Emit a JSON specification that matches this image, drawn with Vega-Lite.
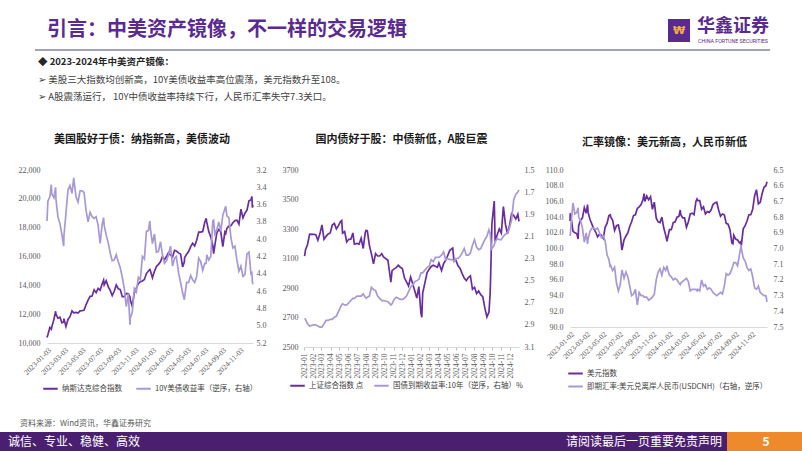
{
"$schema": "https://vega.github.io/schema/vega-lite/v6.json",
"padding": 0,
"background": "white",
"config": {
  "view": {"stroke": null},
  "axis": {"labelFont": "Liberation Serif", "labelFontSize": 8, "labelColor": "#595959", "grid": false, "ticks": false, "domain": false, "labelPadding": 6, "zindex": 1},
  "axisX": {"domain": true, "domainColor": "#d9d9d9", "labelFontSize": 7.5, "labelPadding": 3, "labelOverlap": false, "labelFlush": false},
  "legend": {"labelFont": "Noto Sans CJK SC", "labelFontSize": 7.5, "labelColor": "#404040", "symbolType": "stroke", "symbolStrokeWidth": 2, "symbolSize": 210, "title": null, "labelLimit": 400, "labelOffset": 3},
  "title": {"font": "Noto Sans CJK SC", "fontSize": 11, "fontWeight": "bold", "color": "#1a1a1a", "anchor": "middle", "offset": 21}
},
"datasets": {
"us": [
{"d":"2023-01-03","a":10386,"b":3.79},{"d":"2023-01-06","a":10569,"b":3.56},{"d":"2023-01-13","a":11079,"b":3.51},{"d":"2023-01-18","a":10958,"b":3.37},{"d":"2023-01-20","a":11140,"b":3.48},{"d":"2023-01-27","a":11622,"b":3.52},{"d":"2023-02-02","a":12201,"b":3.40},{"d":"2023-02-03","a":12007,"b":3.53},{"d":"2023-02-10","a":11718,"b":3.74},{"d":"2023-02-17","a":11787,"b":3.82},{"d":"2023-02-24","a":11395,"b":3.95},{"d":"2023-03-02","a":11462,"b":4.08},{"d":"2023-03-03","a":11689,"b":3.96},{"d":"2023-03-10","a":11139,"b":3.70},{"d":"2023-03-17","a":11631,"b":3.43},{"d":"2023-03-24","a":11824,"b":3.38},{"d":"2023-03-31","a":12222,"b":3.47},{"d":"2023-04-06","a":12088,"b":3.29},{"d":"2023-04-14","a":12123,"b":3.51},{"d":"2023-04-21","a":12072,"b":3.57},{"d":"2023-04-28","a":12227,"b":3.44},{"d":"2023-05-05","a":12235,"b":3.44},{"d":"2023-05-12","a":12284,"b":3.46},{"d":"2023-05-19","a":12658,"b":3.67},{"d":"2023-05-26","a":12976,"b":3.80},{"d":"2023-06-02","a":13240,"b":3.69},{"d":"2023-06-09","a":13259,"b":3.74},{"d":"2023-06-16","a":13689,"b":3.76},{"d":"2023-06-23","a":13492,"b":3.74},{"d":"2023-06-30","a":13788,"b":3.84},{"d":"2023-07-07","a":13661,"b":4.05},{"d":"2023-07-14","a":14113,"b":3.83},{"d":"2023-07-19","a":14358,"b":3.75},{"d":"2023-07-21","a":14032,"b":3.84},{"d":"2023-07-28","a":14317,"b":3.95},{"d":"2023-08-04","a":13909,"b":4.04},{"d":"2023-08-11","a":13645,"b":4.16},{"d":"2023-08-18","a":13291,"b":4.25},{"d":"2023-08-25","a":13590,"b":4.24},{"d":"2023-09-01","a":14031,"b":4.18},{"d":"2023-09-08","a":13762,"b":4.26},{"d":"2023-09-15","a":13708,"b":4.33},{"d":"2023-09-22","a":13212,"b":4.44},{"d":"2023-09-29","a":13219,"b":4.57},{"d":"2023-10-06","a":13431,"b":4.78},{"d":"2023-10-13","a":13407,"b":4.63},{"d":"2023-10-19","a":13186,"b":4.99},{"d":"2023-10-20","a":12984,"b":4.91},{"d":"2023-10-26","a":12596,"b":4.85},{"d":"2023-10-27","a":12643,"b":4.84},{"d":"2023-11-03","a":13478,"b":4.57},{"d":"2023-11-10","a":13798,"b":4.61},{"d":"2023-11-17","a":14125,"b":4.44},{"d":"2023-11-24","a":14250,"b":4.47},{"d":"2023-12-01","a":14305,"b":4.20},{"d":"2023-12-08","a":14404,"b":4.23},{"d":"2023-12-15","a":14814,"b":3.91},{"d":"2023-12-22","a":14993,"b":3.90},{"d":"2023-12-27","a":15099,"b":3.79},{"d":"2023-12-29","a":15011,"b":3.88},
{"d":"2024-01-05","a":14524,"b":4.05},{"d":"2024-01-12","a":14972,"b":3.94},{"d":"2024-01-19","a":15311,"b":4.15},{"d":"2024-01-26","a":15455,"b":4.14},{"d":"2024-02-02","a":15629,"b":4.03},{"d":"2024-02-09","a":15990,"b":4.18},{"d":"2024-02-16","a":15776,"b":4.28},{"d":"2024-02-23","a":15997,"b":4.25},{"d":"2024-03-01","a":16275,"b":4.18},{"d":"2024-03-08","a":16085,"b":4.08},{"d":"2024-03-15","a":15973,"b":4.31},{"d":"2024-03-22","a":16429,"b":4.22},{"d":"2024-03-28","a":16379,"b":4.20},{"d":"2024-04-05","a":16249,"b":4.39},{"d":"2024-04-12","a":16175,"b":4.50},{"d":"2024-04-19","a":15282,"b":4.62},{"d":"2024-04-25","a":15611,"b":4.70},{"d":"2024-04-26","a":15928,"b":4.67},{"d":"2024-05-03","a":16156,"b":4.50},{"d":"2024-05-10","a":16341,"b":4.50},{"d":"2024-05-17","a":16686,"b":4.42},{"d":"2024-05-24","a":16921,"b":4.47},{"d":"2024-05-31","a":16735,"b":4.50},{"d":"2024-06-07","a":17133,"b":4.43},{"d":"2024-06-14","a":17689,"b":4.22},{"d":"2024-06-21","a":17689,"b":4.26},{"d":"2024-06-28","a":17733,"b":4.36},{"d":"2024-07-05","a":18353,"b":4.28},{"d":"2024-07-10","a":18647,"b":4.28},{"d":"2024-07-12","a":18398,"b":4.18},{"d":"2024-07-19","a":17727,"b":4.24},{"d":"2024-07-26","a":17358,"b":4.20},{"d":"2024-08-02","a":16776,"b":3.79},{"d":"2024-08-05","a":16200,"b":3.78},{"d":"2024-08-09","a":16745,"b":3.94},{"d":"2024-08-16","a":17631,"b":3.89},{"d":"2024-08-23","a":17878,"b":3.80},{"d":"2024-08-30","a":17714,"b":3.91},{"d":"2024-09-06","a":16691,"b":3.72},{"d":"2024-09-13","a":17684,"b":3.65},{"d":"2024-09-16","a":17593,"b":3.62},{"d":"2024-09-20","a":17948,"b":3.73},{"d":"2024-09-27","a":18120,"b":3.75},{"d":"2024-10-04","a":18138,"b":3.98},{"d":"2024-10-11","a":18343,"b":4.10},{"d":"2024-10-18","a":18490,"b":4.08},{"d":"2024-10-25","a":18519,"b":4.24},{"d":"2024-11-01","a":18240,"b":4.37},{"d":"2024-11-08","a":19287,"b":4.31},{"d":"2024-11-15","a":18680,"b":4.43},{"d":"2024-11-22","a":19004,"b":4.41},{"d":"2024-11-29","a":19218,"b":4.17},{"d":"2024-12-06","a":19860,"b":4.15},{"d":"2024-12-13","a":19927,"b":4.40},{"d":"2024-12-16","a":20173,"b":4.39},{"d":"2024-12-18","a":19392,"b":4.50},{"d":"2024-12-20","a":19573,"b":4.52}
],
"cn": [
{"d":"2023-01-03","a":3116,"b":2.84},{"d":"2023-01-06","a":3158,"b":2.85},{"d":"2023-01-13","a":3195,"b":2.89},{"d":"2023-01-20","a":3265,"b":2.91},{"d":"2023-02-03","a":3263,"b":2.90},{"d":"2023-02-10","a":3261,"b":2.90},{"d":"2023-02-17","a":3224,"b":2.91},{"d":"2023-02-24","a":3267,"b":2.92},{"d":"2023-03-03","a":3328,"b":2.92},{"d":"2023-03-10","a":3230,"b":2.89},{"d":"2023-03-17","a":3250,"b":2.86},{"d":"2023-03-24","a":3266,"b":2.86},{"d":"2023-03-31","a":3273,"b":2.85},{"d":"2023-04-07","a":3327,"b":2.85},{"d":"2023-04-14","a":3338,"b":2.83},{"d":"2023-04-21","a":3301,"b":2.82},{"d":"2023-04-28","a":3323,"b":2.78},{"d":"2023-05-05","a":3350,"b":2.74},{"d":"2023-05-09","a":3357,"b":2.72},{"d":"2023-05-12","a":3272,"b":2.71},{"d":"2023-05-19","a":3283,"b":2.72},{"d":"2023-05-26","a":3212,"b":2.72},{"d":"2023-06-02","a":3230,"b":2.70},{"d":"2023-06-09","a":3231,"b":2.68},{"d":"2023-06-16","a":3273,"b":2.66},{"d":"2023-06-21","a":3197,"b":2.66},{"d":"2023-06-30","a":3202,"b":2.64},{"d":"2023-07-07","a":3197,"b":2.64},{"d":"2023-07-14","a":3237,"b":2.64},{"d":"2023-07-21","a":3168,"b":2.62},{"d":"2023-07-28","a":3276,"b":2.65},{"d":"2023-07-31","a":3291,"b":2.66},{"d":"2023-08-04","a":3288,"b":2.65},{"d":"2023-08-11","a":3189,"b":2.64},{"d":"2023-08-18","a":3131,"b":2.56},{"d":"2023-08-25","a":3064,"b":2.58},{"d":"2023-09-01","a":3133,"b":2.59},{"d":"2023-09-08","a":3117,"b":2.64},{"d":"2023-09-15","a":3117,"b":2.66},{"d":"2023-09-22","a":3132,"b":2.68},{"d":"2023-09-28","a":3110,"b":2.68},{"d":"2023-10-13","a":3088,"b":2.69},{"d":"2023-10-20","a":2983,"b":2.71},{"d":"2023-10-23","a":2939,"b":2.72},{"d":"2023-10-27","a":3018,"b":2.71},{"d":"2023-11-03","a":3030,"b":2.67},{"d":"2023-11-10","a":3038,"b":2.65},{"d":"2023-11-17","a":3054,"b":2.66},{"d":"2023-11-24","a":3041,"b":2.67},{"d":"2023-12-01","a":3032,"b":2.67},{"d":"2023-12-08","a":2969,"b":2.66},{"d":"2023-12-15","a":2942,"b":2.64},{"d":"2023-12-22","a":2914,"b":2.60},{"d":"2023-12-29","a":2975,"b":2.56},
{"d":"2024-01-05","a":2929,"b":2.54},{"d":"2024-01-12","a":2882,"b":2.51},{"d":"2024-01-19","a":2832,"b":2.50},{"d":"2024-01-26","a":2910,"b":2.49},{"d":"2024-02-02","a":2730,"b":2.43},{"d":"2024-02-05","a":2702,"b":2.43},{"d":"2024-02-08","a":2866,"b":2.43},{"d":"2024-02-23","a":3004,"b":2.38},{"d":"2024-03-01","a":3027,"b":2.37},{"d":"2024-03-08","a":3046,"b":2.31},{"d":"2024-03-15","a":3054,"b":2.33},{"d":"2024-03-22","a":3048,"b":2.29},{"d":"2024-03-29","a":3041,"b":2.29},{"d":"2024-04-03","a":3069,"b":2.29},{"d":"2024-04-12","a":3019,"b":2.27},{"d":"2024-04-19","a":3065,"b":2.24},{"d":"2024-04-26","a":3088,"b":2.31},{"d":"2024-04-30","a":3105,"b":2.30},{"d":"2024-05-10","a":3155,"b":2.31},{"d":"2024-05-20","a":3171,"b":2.31},{"d":"2024-05-24","a":3089,"b":2.33},{"d":"2024-05-31","a":3087,"b":2.30},{"d":"2024-06-07","a":3051,"b":2.30},{"d":"2024-06-14","a":3033,"b":2.28},{"d":"2024-06-21","a":2998,"b":2.25},{"d":"2024-06-28","a":2967,"b":2.21},{"d":"2024-07-05","a":2950,"b":2.27},{"d":"2024-07-12","a":2971,"b":2.27},{"d":"2024-07-19","a":2982,"b":2.25},{"d":"2024-07-26","a":2891,"b":2.18},{"d":"2024-08-02","a":2905,"b":2.13},{"d":"2024-08-09","a":2862,"b":2.20},{"d":"2024-08-16","a":2879,"b":2.22},{"d":"2024-08-23","a":2855,"b":2.21},{"d":"2024-08-30","a":2842,"b":2.17},{"d":"2024-09-06","a":2765,"b":2.13},{"d":"2024-09-13","a":2704,"b":2.10},{"d":"2024-09-20","a":2737,"b":2.04},{"d":"2024-09-24","a":2863,"b":2.07},{"d":"2024-09-26","a":3001,"b":2.14},{"d":"2024-09-27","a":3088,"b":2.17},{"d":"2024-09-30","a":3336,"b":2.21},{"d":"2024-10-08","a":3489,"b":2.18},{"d":"2024-10-11","a":3217,"b":2.15},{"d":"2024-10-18","a":3261,"b":2.12},{"d":"2024-10-25","a":3300,"b":2.13},{"d":"2024-11-01","a":3272,"b":2.13},{"d":"2024-11-08","a":3452,"b":2.10},{"d":"2024-11-15","a":3331,"b":2.08},{"d":"2024-11-22","a":3268,"b":2.07},{"d":"2024-11-29","a":3326,"b":2.02},{"d":"2024-12-06","a":3404,"b":1.95},{"d":"2024-12-13","a":3391,"b":1.77},{"d":"2024-12-20","a":3368,"b":1.72},{"d":"2024-12-27","a":3400,"b":1.70},{"d":"2024-12-31","a":3352,"b":1.68}
],
"fx": [
{"d":"2023-01-02","a":103.5,"b":6.91},{"d":"2023-01-03","a":104.5,"b":6.92},{"d":"2023-01-06","a":103.9,"b":6.84},{"d":"2023-01-13","a":102.2,"b":6.71},{"d":"2023-01-20","a":102.0,"b":6.78},{"d":"2023-01-27","a":101.9,"b":6.77},{"d":"2023-02-01","a":101.2,"b":6.74},{"d":"2023-02-03","a":102.9,"b":6.80},{"d":"2023-02-10","a":103.6,"b":6.82},{"d":"2023-02-17","a":103.9,"b":6.87},{"d":"2023-02-24","a":105.2,"b":6.96},{"d":"2023-03-03","a":104.5,"b":6.90},{"d":"2023-03-08","a":105.6,"b":6.97},{"d":"2023-03-10","a":104.6,"b":6.94},{"d":"2023-03-17","a":103.7,"b":6.89},{"d":"2023-03-24","a":103.1,"b":6.87},{"d":"2023-03-31","a":102.5,"b":6.87},{"d":"2023-04-07","a":102.1,"b":6.88},{"d":"2023-04-14","a":101.5,"b":6.87},{"d":"2023-04-21","a":101.8,"b":6.90},{"d":"2023-04-28","a":101.7,"b":6.93},{"d":"2023-05-05","a":101.3,"b":6.92},{"d":"2023-05-12","a":102.7,"b":6.95},{"d":"2023-05-19","a":103.2,"b":7.04},{"d":"2023-05-26","a":104.2,"b":7.07},{"d":"2023-05-31","a":104.3,"b":7.12},{"d":"2023-06-02","a":104.0,"b":7.11},{"d":"2023-06-09","a":103.6,"b":7.14},{"d":"2023-06-16","a":102.3,"b":7.12},{"d":"2023-06-23","a":102.9,"b":7.22},{"d":"2023-06-30","a":103.0,"b":7.27},{"d":"2023-07-07","a":101.9,"b":7.23},{"d":"2023-07-13","a":99.8,"b":7.14},{"d":"2023-07-14","a":99.9,"b":7.14},{"d":"2023-07-21","a":101.1,"b":7.19},{"d":"2023-07-28","a":101.6,"b":7.15},{"d":"2023-08-04","a":102.0,"b":7.18},{"d":"2023-08-11","a":102.8,"b":7.24},{"d":"2023-08-18","a":103.4,"b":7.30},{"d":"2023-08-25","a":104.2,"b":7.29},{"d":"2023-09-01","a":104.3,"b":7.26},{"d":"2023-09-08","a":105.1,"b":7.36},{"d":"2023-09-15","a":105.3,"b":7.28},{"d":"2023-09-22","a":105.6,"b":7.30},{"d":"2023-09-29","a":106.2,"b":7.30},{"d":"2023-10-03","a":107.0,"b":7.31},{"d":"2023-10-06","a":106.0,"b":7.31},{"d":"2023-10-13","a":106.7,"b":7.31},{"d":"2023-10-20","a":106.2,"b":7.33},{"d":"2023-10-27","a":106.6,"b":7.32},{"d":"2023-11-03","a":105.0,"b":7.31},{"d":"2023-11-10","a":105.9,"b":7.29},{"d":"2023-11-17","a":103.9,"b":7.20},{"d":"2023-11-24","a":103.4,"b":7.15},{"d":"2023-12-01","a":103.3,"b":7.13},{"d":"2023-12-08","a":104.0,"b":7.17},{"d":"2023-12-15","a":102.6,"b":7.12},{"d":"2023-12-22","a":101.7,"b":7.14},{"d":"2023-12-27","a":100.9,"b":7.11},{"d":"2023-12-29","a":101.3,"b":7.13},
{"d":"2024-01-05","a":102.4,"b":7.17},{"d":"2024-01-12","a":102.4,"b":7.18},{"d":"2024-01-19","a":103.3,"b":7.20},{"d":"2024-01-26","a":103.4,"b":7.19},{"d":"2024-02-02","a":104.0,"b":7.20},{"d":"2024-02-09","a":104.1,"b":7.22},{"d":"2024-02-14","a":104.9,"b":7.23},{"d":"2024-02-16","a":104.3,"b":7.22},{"d":"2024-02-23","a":103.9,"b":7.21},{"d":"2024-03-01","a":103.9,"b":7.20},{"d":"2024-03-08","a":102.7,"b":7.19},{"d":"2024-03-15","a":103.4,"b":7.21},{"d":"2024-03-22","a":104.4,"b":7.27},{"d":"2024-03-29","a":104.5,"b":7.26},{"d":"2024-04-05","a":104.3,"b":7.26},{"d":"2024-04-12","a":106.0,"b":7.26},{"d":"2024-04-16","a":106.3,"b":7.27},{"d":"2024-04-19","a":106.1,"b":7.26},{"d":"2024-04-26","a":106.1,"b":7.27},{"d":"2024-05-03","a":105.0,"b":7.20},{"d":"2024-05-10","a":105.3,"b":7.24},{"d":"2024-05-17","a":104.4,"b":7.23},{"d":"2024-05-24","a":104.7,"b":7.26},{"d":"2024-05-31","a":104.6,"b":7.25},{"d":"2024-06-07","a":104.9,"b":7.26},{"d":"2024-06-14","a":105.6,"b":7.28},{"d":"2024-06-21","a":105.8,"b":7.29},{"d":"2024-06-28","a":105.9,"b":7.30},{"d":"2024-07-05","a":104.9,"b":7.29},{"d":"2024-07-12","a":104.1,"b":7.28},{"d":"2024-07-19","a":104.4,"b":7.29},{"d":"2024-07-26","a":104.3,"b":7.24},{"d":"2024-08-02","a":103.2,"b":7.16},{"d":"2024-08-09","a":103.1,"b":7.17},{"d":"2024-08-16","a":102.4,"b":7.16},{"d":"2024-08-23","a":100.7,"b":7.13},{"d":"2024-08-27","a":100.6,"b":7.11},{"d":"2024-08-30","a":101.7,"b":7.09},{"d":"2024-09-06","a":101.2,"b":7.09},{"d":"2024-09-13","a":101.1,"b":7.11},{"d":"2024-09-20","a":100.7,"b":7.04},{"d":"2024-09-26","a":100.9,"b":6.98},{"d":"2024-09-27","a":100.4,"b":7.00},{"d":"2024-10-04","a":102.5,"b":7.06},{"d":"2024-10-11","a":102.9,"b":7.08},{"d":"2024-10-18","a":103.5,"b":7.12},{"d":"2024-10-25","a":104.3,"b":7.14},{"d":"2024-11-01","a":104.3,"b":7.13},{"d":"2024-11-08","a":105.0,"b":7.18},{"d":"2024-11-15","a":106.7,"b":7.25},{"d":"2024-11-22","a":107.5,"b":7.26},{"d":"2024-11-29","a":105.7,"b":7.24},{"d":"2024-12-06","a":105.9,"b":7.28},{"d":"2024-12-13","a":107.0,"b":7.29},{"d":"2024-12-20","a":107.8,"b":7.30},{"d":"2024-12-27","a":108.0,"b":7.30},{"d":"2024-12-31","a":108.5,"b":7.34}
]
},
"spacing": 51,
"bounds": "flush",
"resolve": {"scale": {"x": "independent", "y": "independent", "color": "independent"}, "legend": {"color": "independent"}},
"hconcat": [
{
  "width": 206, "height": 173,
  "resolve": {"scale": {"y": "independent"}},
  "layer": [
    {"data": {"values": [{}]}, "mark": {"type": "rect", "fill": "white", "fillOpacity": 0}, "encoding": {"x": {"value": -47}, "x2": {"value": 755}, "y": {"value": -170}, "y2": {"value": 281}}},
    {"data": {"values": [{}]}, "mark": {"type": "text", "align": "left", "baseline": "middle", "font": "Noto Sans CJK SC", "fontSize": 20, "fontWeight": "bold", "fill": "#5a2a90"}, "encoding": {"x": {"value": 0}, "y": {"value": -140}, "text": {"value": "引言：中美资产镜像，不一样的交易逻辑"}}},
    {"data": {"values": [{}]}, "mark": {"type": "rule", "stroke": "#a3a3b8", "strokeWidth": 2}, "encoding": {"x": {"value": -12}, "x2": {"value": 723}, "y": {"value": -120}}},
    {"data": {"values": [{}]}, "mark": {"type": "rect", "fill": "#5a2a90"}, "encoding": {"x": {"value": 621}, "x2": {"value": 643}, "y": {"value": -151}, "y2": {"value": -128}}},
    {"data": {"values": [{}]}, "mark": {"type": "text", "align": "center", "baseline": "middle", "font": "DejaVu Sans", "fontSize": 11, "fontWeight": "bold", "fill": "#f2b134"}, "encoding": {"x": {"value": 632}, "y": {"value": -139}, "text": {"value": "₩"}}},
    {"data": {"values": [{}]}, "mark": {"type": "text", "align": "left", "baseline": "middle", "font": "Noto Sans CJK SC", "fontSize": 18, "fontWeight": "bold", "fill": "#5a2a90"}, "encoding": {"x": {"value": 650}, "y": {"value": -143}, "text": {"value": "华鑫证券"}}},
    {"data": {"values": [{}]}, "mark": {"type": "text", "align": "left", "baseline": "middle", "font": "Roboto", "fontSize": 5.3, "fill": "#5a2a90"}, "encoding": {"x": {"value": 651}, "y": {"value": -129}, "text": {"value": "CHINA FORTUNE SECURITIES"}}},
    {"data": {"values": [{}]}, "mark": {"type": "text", "align": "left", "baseline": "middle", "font": "Noto Sans CJK SC", "fontSize": 9.5, "fontWeight": "bold", "fill": "#262626"}, "encoding": {"x": {"value": -9}, "y": {"value": -108}, "text": {"value": "◆ 2023-2024年中美资产镜像："}}},
    {"data": {"values": [{}]}, "mark": {"type": "text", "align": "left", "baseline": "middle", "font": "Noto Sans CJK SC", "fontSize": 9.5, "fill": "#404040"}, "encoding": {"x": {"value": -9}, "y": {"value": -90}, "text": {"value": "➢ 美股三大指数均创新高，10Y美债收益率高位震荡，美元指数升至108。"}}},
    {"data": {"values": [{}]}, "mark": {"type": "text", "align": "left", "baseline": "middle", "font": "Noto Sans CJK SC", "fontSize": 9.5, "fill": "#404040"}, "encoding": {"x": {"value": -9}, "y": {"value": -73}, "text": {"value": "➢ A股震荡运行， 10Y中债收益率持续下行，人民币汇率失守7.3关口。"}}},
    {"data": {"values": [{}]}, "mark": {"type": "text", "align": "center", "baseline": "middle", "font": "Noto Sans CJK SC", "fontSize": 11, "fontWeight": "bold", "fill": "#1a1a1a"}, "encoding": {"x": {"value": 95}, "y": {"value": -30}, "text": {"value": "美国股好于债：纳指新高，美债波动"}}},
    {"data": {"values": [{}]}, "mark": {"type": "text", "align": "left", "baseline": "middle", "font": "Noto Sans CJK SC", "fontSize": 8, "fill": "#595959"}, "encoding": {"x": {"value": -27}, "y": {"value": 254}, "text": {"value": "资料来源：Wind资讯，华鑫证券研究"}}},
    {"data": {"values": [{}]}, "mark": {"type": "rect", "fill": "#4b1f6f"}, "encoding": {"x": {"value": -47}, "x2": {"value": 680}, "y": {"value": 262}, "y2": {"value": 281}}},
    {"data": {"values": [{}]}, "mark": {"type": "rect", "fill": "#ef8a2c"}, "encoding": {"x": {"value": 680}, "x2": {"value": 755}, "y": {"value": 262}, "y2": {"value": 281}}},
    {"data": {"values": [{}]}, "mark": {"type": "text", "align": "left", "baseline": "middle", "font": "Noto Sans CJK SC", "fontSize": 12, "fill": "white"}, "encoding": {"x": {"value": -39}, "y": {"value": 271.5}, "text": {"value": "诚信、专业、稳健、高效"}}},
    {"data": {"values": [{}]}, "mark": {"type": "text", "align": "right", "baseline": "middle", "font": "Noto Sans CJK SC", "fontSize": 12, "fill": "white"}, "encoding": {"x": {"value": 675}, "y": {"value": 271.5}, "text": {"value": "请阅读最后一页重要免责声明"}}},
    {"data": {"values": [{}]}, "mark": {"type": "text", "align": "center", "baseline": "middle", "font": "Noto Sans CJK SC", "fontSize": 12, "fontWeight": "bold", "fill": "white"}, "encoding": {"x": {"value": 719}, "y": {"value": 271.5}, "text": {"value": "5"}}},
    {
      "data": {"name": "us"},
      "mark": {"type": "line", "strokeWidth": 1.7},
      "encoding": {
        "x": {"field": "d", "type": "temporal", "scale": {"type": "utc", "nice": false}, "axis": {"title": null, "format": "%Y-%m-%d", "labelAngle": -45, "labelOverlap": false, "labelFlush": false, "tickCount": 40, "values": [{"year":2023,"month":1,"date":3,"utc":true},{"year":2023,"month":3,"date":3,"utc":true},{"year":2023,"month":5,"date":3,"utc":true},{"year":2023,"month":7,"date":3,"utc":true},{"year":2023,"month":9,"date":3,"utc":true},{"year":2023,"month":11,"date":3,"utc":true},{"year":2024,"month":1,"date":3,"utc":true},{"year":2024,"month":3,"date":3,"utc":true},{"year":2024,"month":5,"date":3,"utc":true},{"year":2024,"month":7,"date":3,"utc":true},{"year":2024,"month":9,"date":3,"utc":true},{"year":2024,"month":11,"date":3,"utc":true}]}},
        "y": {"field": "a", "type": "quantitative", "scale": {"domain": [10000, 22000], "nice": false, "zero": false}, "axis": {"title": null, "format": ",.0f", "tickCount": 20, "values": [10000,12000,14000,16000,18000,20000,22000], "labelPadding": 7}},
        "color": {"datum": "纳斯达克综合指数", "scale": {"domain": ["纳斯达克综合指数", "10Y美债收益率（逆序，右轴）"], "range": ["#6a2d9f", "#a898d6"]}, "legend": {"orient": "none", "legendX": -5, "legendY": 210, "direction": "horizontal", "columnPadding": 10}}
      }
    },
    {
      "data": {"name": "us"},
      "mark": {"type": "line", "strokeWidth": 1.7},
      "encoding": {
        "x": {"field": "d", "type": "temporal"},
        "y": {"field": "b", "type": "quantitative", "scale": {"domain": [3.2, 5.2], "reverse": true, "nice": false, "zero": false}, "axis": {"title": null, "orient": "right", "format": ".1f", "tickCount": 20, "values": [3.2,3.4,3.6,3.8,4.0,4.2,4.4,4.6,4.8,5.0,5.2], "labelPadding": 3}},
        "color": {"datum": "10Y美债收益率（逆序，右轴）"}
      }
    }
  ]
},
{
  "width": 215, "height": 177,
  "title": {"text": "国内债好于股：中债新低，A股巨震", "dx": -10},
  "data": {"name": "cn"},
  "resolve": {"scale": {"y": "independent"}},
  "layer": [
    {
      "mark": {"type": "line", "strokeWidth": 1.7},
      "encoding": {
        "x": {"field": "d", "type": "temporal", "scale": {"type": "utc", "nice": false, "domain": [{"year":2023,"month":1,"date":1,"utc":true},{"year":2024,"month":12,"date":31,"utc":true}]}, "axis": {"title": null, "format": "%Y-%m", "labelAngle": -90, "labelOverlap": false, "labelFlush": false, "tickCount": 40, "ticks": true, "tickSize": 3, "tickColor": "#bfbfbf", "labelFontSize": 7.5, "values": [{"year":2023,"month":1,"date":1,"utc":true},{"year":2023,"month":2,"date":1,"utc":true},{"year":2023,"month":3,"date":1,"utc":true},{"year":2023,"month":4,"date":1,"utc":true},{"year":2023,"month":5,"date":1,"utc":true},{"year":2023,"month":6,"date":1,"utc":true},{"year":2023,"month":7,"date":1,"utc":true},{"year":2023,"month":8,"date":1,"utc":true},{"year":2023,"month":9,"date":1,"utc":true},{"year":2023,"month":10,"date":1,"utc":true},{"year":2023,"month":11,"date":1,"utc":true},{"year":2023,"month":12,"date":1,"utc":true},{"year":2024,"month":1,"date":1,"utc":true},{"year":2024,"month":2,"date":1,"utc":true},{"year":2024,"month":3,"date":1,"utc":true},{"year":2024,"month":4,"date":1,"utc":true},{"year":2024,"month":5,"date":1,"utc":true},{"year":2024,"month":6,"date":1,"utc":true},{"year":2024,"month":7,"date":1,"utc":true},{"year":2024,"month":8,"date":1,"utc":true},{"year":2024,"month":9,"date":1,"utc":true},{"year":2024,"month":10,"date":1,"utc":true},{"year":2024,"month":11,"date":1,"utc":true},{"year":2024,"month":12,"date":1,"utc":true}]}},
        "y": {"field": "a", "type": "quantitative", "scale": {"domain": [2500, 3700], "nice": false, "zero": false}, "axis": {"title": null, "format": "d", "tickCount": 20, "values": [2500,2700,2900,3100,3300,3500,3700], "labelPadding": 6}},
        "color": {"datum": "上证综合指数 点", "scale": {"domain": ["上证综合指数 点", "国债到期收益率:10年（逆序，右轴）%"], "range": ["#6a2d9f", "#a898d6"]}, "legend": {"orient": "none", "legendX": -15, "legendY": 207, "direction": "horizontal", "columnPadding": 6}}
      }
    },
    {
      "mark": {"type": "line", "strokeWidth": 1.7},
      "encoding": {
        "x": {"field": "d", "type": "temporal"},
        "y": {"field": "b", "type": "quantitative", "scale": {"domain": [1.5, 3.1], "reverse": true, "nice": false, "zero": false}, "axis": {"title": null, "orient": "right", "format": ".1f", "tickCount": 20, "values": [1.5,1.7,1.9,2.1,2.3,2.5,2.7,2.9,3.1], "labelPadding": 5}},
        "color": {"datum": "国债到期收益率:10年（逆序，右轴）%"}
      }
    }
  ]
},
{
  "width": 197, "height": 157,
  "title": {"text": "汇率镜像：美元新高，人民币新低", "dx": -4, "offset": 18},
  "data": {"name": "fx"},
  "resolve": {"scale": {"y": "independent"}},
  "layer": [
    {
      "mark": {"type": "line", "strokeWidth": 1.7},
      "encoding": {
        "x": {"field": "d", "type": "temporal", "scale": {"type": "utc", "nice": false}, "axis": {"title": null, "format": "%Y-%m-%d", "labelAngle": -45, "labelOverlap": false, "labelFlush": false, "tickCount": 40, "values": [{"year":2023,"month":1,"date":2,"utc":true},{"year":2023,"month":3,"date":2,"utc":true},{"year":2023,"month":5,"date":2,"utc":true},{"year":2023,"month":7,"date":2,"utc":true},{"year":2023,"month":9,"date":2,"utc":true},{"year":2023,"month":11,"date":2,"utc":true},{"year":2024,"month":1,"date":2,"utc":true},{"year":2024,"month":3,"date":2,"utc":true},{"year":2024,"month":5,"date":2,"utc":true},{"year":2024,"month":7,"date":2,"utc":true},{"year":2024,"month":9,"date":2,"utc":true},{"year":2024,"month":11,"date":2,"utc":true}]}},
        "y": {"field": "a", "type": "quantitative", "scale": {"domain": [90, 110], "nice": false, "zero": false}, "axis": {"title": null, "format": ".1f", "tickCount": 20, "values": [90,92,94,96,98,100,102,104,106,108,110], "labelPadding": 7}},
        "color": {"datum": "美元指数", "scale": {"domain": ["美元指数", "即期汇率:美元兑离岸人民币(USDCNH)（右轴，逆序）"], "range": ["#6a2d9f", "#a898d6"]}, "legend": {"orient": "none", "legendX": -3, "legendY": 195, "direction": "vertical", "rowPadding": 0}}
      }
    },
    {
      "mark": {"type": "line", "strokeWidth": 1.7},
      "encoding": {
        "x": {"field": "d", "type": "temporal"},
        "y": {"field": "b", "type": "quantitative", "scale": {"domain": [6.5, 7.5], "reverse": true, "nice": false, "zero": false}, "axis": {"title": null, "orient": "right", "format": ".1f", "tickCount": 20, "values": [6.5,6.6,6.7,6.8,6.9,7.0,7.1,7.2,7.3,7.4,7.5], "labelPadding": 6}},
        "color": {"datum": "即期汇率:美元兑离岸人民币(USDCNH)（右轴，逆序）"}
      }
    }
  ]
}
]
}
